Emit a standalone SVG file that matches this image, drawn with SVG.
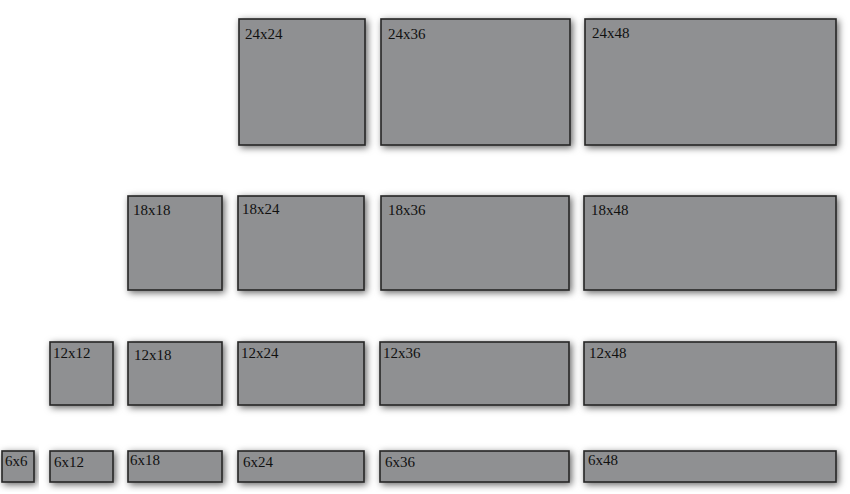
<svg xmlns="http://www.w3.org/2000/svg" width="850" height="494" viewBox="0 0 850 494">
<style>
.b{fill:#8f9092;stroke:#262626;stroke-width:1.6;filter:url(#sh)}
.t{font-family:"Liberation Serif","Times New Roman",serif;font-size:15px;fill:#111111}
</style>
<defs>
<filter id="sh" x="-10%" y="-25%" width="125%" height="155%">
<feDropShadow dx="2" dy="2" stdDeviation="3.5" flood-color="#000" flood-opacity="0.6"/>
</filter>
</defs>
<rect width="850" height="494" fill="#ffffff"/>
<g id="n24x24"><rect class="b" x="239" y="19" width="126" height="126"/><text class="t" x="245" y="39">24x24</text></g>
<g id="n24x36"><rect class="b" x="381" y="19" width="189" height="126"/><text class="t" x="388" y="39">24x36</text></g>
<g id="n24x48"><rect class="b" x="585" y="19" width="251" height="126"/><text class="t" x="592" y="38">24x48</text></g>

<g id="n18x18"><rect class="b" x="128" y="196" width="94" height="94"/><text class="t" x="133" y="215">18x18</text></g>
<g id="n18x24"><rect class="b" x="238" y="196" width="126" height="94"/><text class="t" x="242" y="214">18x24</text></g>
<g id="n18x36"><rect class="b" x="381" y="196" width="188" height="94"/><text class="t" x="388" y="215">18x36</text></g>
<g id="n18x48"><rect class="b" x="584" y="196" width="252" height="94"/><text class="t" x="591" y="215">18x48</text></g>

<g id="n12x12"><rect class="b" x="50" y="342" width="63" height="63"/><text class="t" x="53" y="358">12x12</text></g>
<g id="n12x18"><rect class="b" x="128" y="342" width="94" height="63"/><text class="t" x="134" y="360">12x18</text></g>
<g id="n12x24"><rect class="b" x="238" y="342" width="126" height="63"/><text class="t" x="241" y="358">12x24</text></g>
<g id="n12x36"><rect class="b" x="380" y="342" width="189" height="63"/><text class="t" x="383" y="358">12x36</text></g>
<g id="n12x48"><rect class="b" x="584" y="342" width="252" height="63"/><text class="t" x="589" y="358">12x48</text></g>

<g id="n6x6"><rect class="b" x="2" y="451" width="32" height="31"/><text class="t" x="5" y="466">6x6</text></g>
<g id="n6x12"><rect class="b" x="50" y="451" width="63" height="31"/><text class="t" x="54" y="467">6x12</text></g>
<g id="n6x18"><rect class="b" x="128" y="451" width="94" height="31"/><text class="t" x="130" y="465">6x18</text></g>
<g id="n6x24"><rect class="b" x="238" y="451" width="126" height="31"/><text class="t" x="243" y="467">6x24</text></g>
<g id="n6x36"><rect class="b" x="380" y="451" width="189" height="31"/><text class="t" x="385" y="467">6x36</text></g>
<g id="n6x48"><rect class="b" x="584" y="451" width="252" height="31"/><text class="t" x="588" y="465">6x48</text></g>
<g id="connectors"/>
</svg>
